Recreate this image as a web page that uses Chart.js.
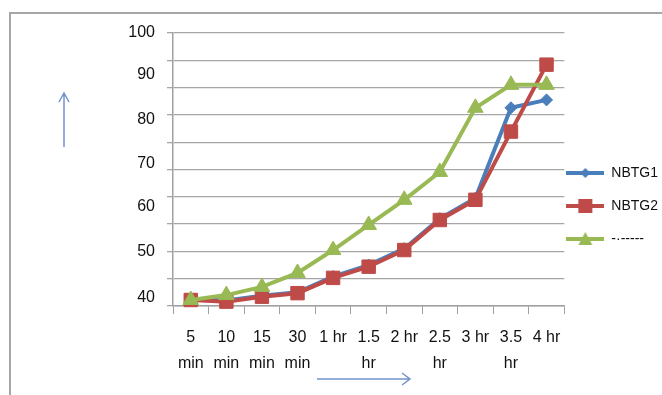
<!DOCTYPE html>
<html>
<head>
<meta charset="utf-8">
<script src="https://cdn.jsdelivr.net/npm/chart.js@4"></script>
<style>
  html, body { margin: 0; padding: 0; background: #fff; }
  #grafico { display: block; }
</style>
</head>
<body>
<canvas id="grafico" width="662" height="395"></canvas>
<script>
// categorias do eixo x (texto quebrado em duas linhas como no original)
const categorias = [
  ['5', 'min'], ['10', 'min'], ['15', 'min'], ['30', 'min'], ['1 hr', ''],
  ['1.5', 'hr'], ['2 hr', ''], ['2.5', 'hr'], ['3 hr', ''], ['3.5', 'hr'], ['4 hr', '']
];

// valores (escala interna 0-100 das linhas de grade)
const nbtg1 = [2.5, 2.0, 3.8, 5.0, 10.8, 15.0, 21.0, 32.0, 39.5, 72.6, 75.5];
const nbtg2 = [2.2, 1.6, 3.4, 4.7, 10.3, 14.4, 20.5, 31.5, 38.9, 63.9, 88.4];
const nbtg3 = [2.2, 4.0, 7.0, 12.1, 20.5, 29.7, 38.9, 49.1, 72.6, 81.0, 81.0];

const nomesSeries = ['NBTG1', 'NBTG2', '-·-----'];

// linhas de grade e rótulos do eixo y
const gradeY = [0, 10, 20, 30, 40, 50, 60, 70, 80, 90, 100];
const rotulosY = ['100', '90', '80', '70', '60', '50', '40'];
const valoresRotulosY = [100, 84.7, 68.2, 52.1, 36.3, 20, 3];

const azul = '#4A7EBB';
const vermelho = '#BE4B48';
const verde = '#98B954';

function marcadorLegenda(cor, estilo) {
  const c = document.createElement('canvas');
  c.width = 38;
  c.height = 16;
  const ctx = c.getContext('2d');
  ctx.strokeStyle = cor;
  ctx.lineWidth = 4;
  ctx.beginPath();
  ctx.moveTo(0, 8);
  ctx.lineTo(38, 8);
  ctx.stroke();
  ctx.fillStyle = cor;
  ctx.beginPath();
  if (estilo == 'losango') {
    ctx.moveTo(19, 3); ctx.lineTo(24, 8); ctx.lineTo(19, 13); ctx.lineTo(14, 8);
  } else if (estilo == 'quadrado') {
    ctx.rect(12, 1, 14, 14);
  } else {
    ctx.moveTo(19, 1); ctx.lineTo(26, 14); ctx.lineTo(12, 14);
  }
  ctx.closePath();
  ctx.fill();
  return c;
}

const marcadores = [
  marcadorLegenda(azul, 'losango'),
  marcadorLegenda(vermelho, 'quadrado'),
  marcadorLegenda(verde, 'triangulo')
];

const todosTicksY = Array.from(new Set(gradeY.concat(valoresRotulosY))).sort((a, b) => a - b);

const enfeites = {
  id: 'enfeites',
  beforeDraw(chart) {
    const ctx = chart.ctx;
    ctx.save();
    ctx.strokeStyle = '#a6a6a6';
    ctx.lineWidth = 2;
    ctx.beginPath();
    ctx.moveTo(10, 395);
    ctx.lineTo(10, 13);
    ctx.lineTo(662, 13);
    ctx.stroke();
    ctx.restore();
  },
  afterDraw(chart) {
    const ctx = chart.ctx;
    ctx.save();
    // marcadores da legenda (linha + símbolo, estilo Excel)
    chart.legend.legendHitBoxes.forEach((caixa, i) => {
      const cy = caixa.top + caixa.height / 2;
      ctx.drawImage(marcadores[i], caixa.left, Math.round(cy - 8));
    });
    ctx.strokeStyle = '#7094cc';
    ctx.lineWidth = 1.5;
    // seta para cima
    ctx.beginPath();
    ctx.moveTo(64, 147);
    ctx.lineTo(64, 93);
    ctx.moveTo(59, 102);
    ctx.lineTo(64, 93);
    ctx.lineTo(69, 102);
    // seta para a direita
    ctx.moveTo(317, 379);
    ctx.lineTo(410, 379);
    ctx.moveTo(402, 373);
    ctx.lineTo(410, 379);
    ctx.lineTo(402, 385);
    ctx.stroke();
    ctx.restore();
  }
};

const dados = {
  labels: categorias,
  datasets: [
    {
      label: nomesSeries[0],
      data: nbtg1,
      borderColor: azul,
      backgroundColor: azul,
      pointStyle: 'rectRot',
      pointRadius: 6,
      order: 3
    },
    {
      label: nomesSeries[1],
      data: nbtg2,
      borderColor: vermelho,
      backgroundColor: vermelho,
      pointStyle: 'rect',
      pointRadius: 9.5,
      order: 2
    },
    {
      label: nomesSeries[2],
      data: nbtg3,
      borderColor: verde,
      backgroundColor: verde,
      pointStyle: 'triangle',
      pointRadius: 9,
      order: 1
    }
  ]
};

const config = {
  type: 'line',
  data: dados,
  options: {
    responsive: false,
    animation: false,
    layout: { padding: { left: 113, top: 33, right: -6, bottom: 0 } },
    elements: {
      line: { borderWidth: 4, tension: 0 },
      point: { borderWidth: 1, hoverRadius: 8 }
    },
    datasets: { line: { clip: false } },
    scales: {
      x: {
        offset: true,
        afterFit: (escala) => { escala.height = 89; },
        grid: {
          offset: true,
          drawOnChartArea: false,
          color: '#a0a0a0',
          tickLength: 8
        },
        border: { color: '#a0a0a0', width: 1.5 },
        ticks: {
          maxRotation: 0,
          autoSkip: false,
          padding: 11,
          color: '#111',
          font: { family: 'Liberation Sans', size: 16, lineHeight: 1.6 }
        }
      },
      y: {
        min: 0,
        max: 100,
        afterFit: (escala) => { escala.width = 60; },
        afterBuildTicks: (escala) => {
          escala.ticks = todosTicksY.map(v => ({ value: v }));
        },
        grid: {
          color: (ctx) => (ctx.tick && gradeY.includes(ctx.tick.value)) ? '#a6a6a6' : 'rgba(0,0,0,0)',
          lineWidth: 1.3,
          tickLength: 6
        },
        border: { color: '#a0a0a0', width: 1.5 },
        ticks: {
          autoSkip: false,
          padding: 12,
          color: '#111',
          font: { family: 'Liberation Sans', size: 16 },
          callback: function (valor) {
            const i = valoresRotulosY.indexOf(valor);
            return i >= 0 ? rotulosY[i] : '';
          }
        }
      }
    },
    plugins: {
      tooltip: { enabled: false },
      legend: {
        position: 'right',
        align: 'start',
        title: { display: true, text: '', padding: { top: 108, bottom: 0 } },
        labels: {
          boxWidth: 38,
          boxHeight: 31,
          padding: 2,
          color: '#111',
          font: { family: 'Liberation Sans', size: 14 },
          sort: (a, b) => a.datasetIndex - b.datasetIndex,
          generateLabels: function (chart) {
            const itens = Chart.defaults.plugins.legend.labels.generateLabels(chart);
            itens.forEach(item => {
              item.fillStyle = 'rgba(0,0,0,0)';
              item.strokeStyle = 'rgba(0,0,0,0)';
              item.lineWidth = 0;
            });
            return itens;
          }
        }
      }
    }
  },
  plugins: [enfeites]
};

let meuGrafico = new Chart(document.getElementById('grafico'), config);
</script>
</body>
</html>
